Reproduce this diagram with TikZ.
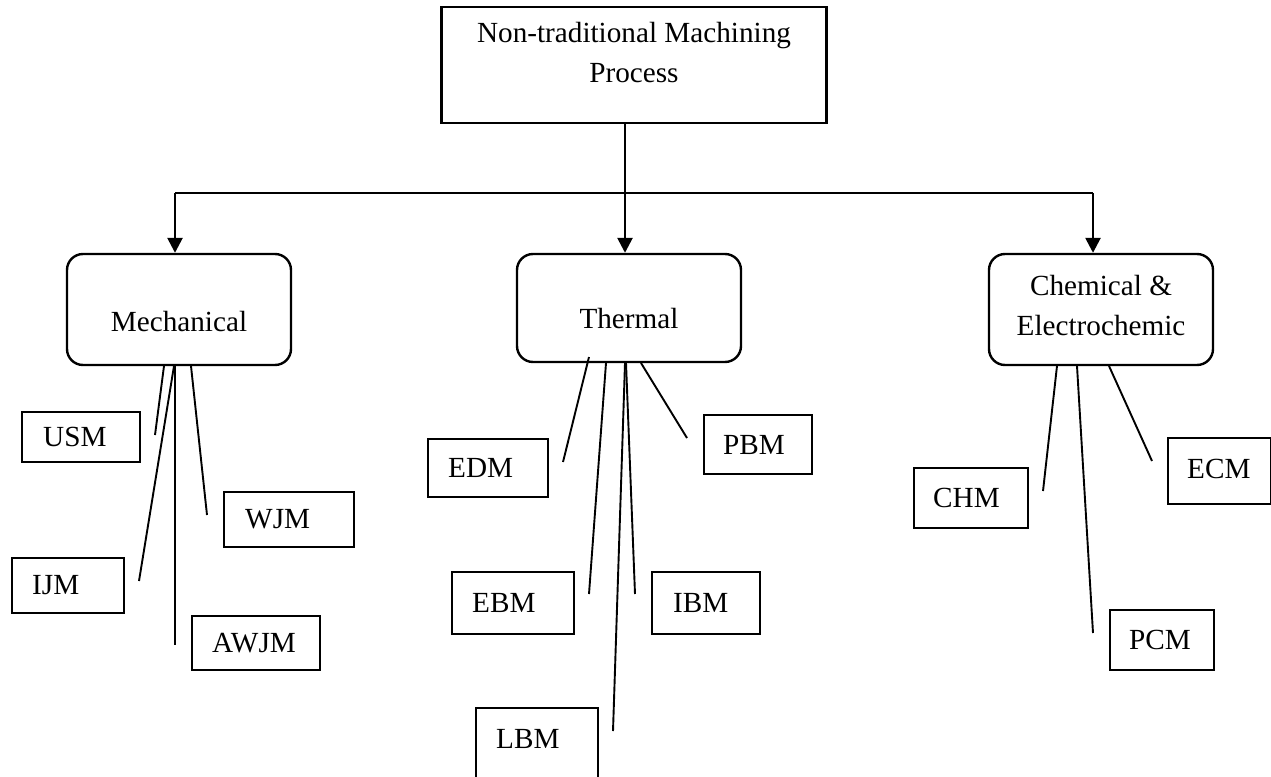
\documentclass[tikz,border=0pt]{standalone}
\usepackage{fontspec}
\setmainfont{Liberation Serif}
\usetikzlibrary{arrows.meta}
\tikzset{
  boxline/.style={draw=black, line width=2.4pt},
  catbox/.style={boxline, rounded corners=16pt, inner sep=0pt, minimum width=224pt},
  leafbox/.style={boxline, inner sep=0pt, anchor=north west},
  txt/.style={inner sep=0pt, font=\fontsize{29.2}{40}\selectfont},
  trunk/.style={line width=2.6pt},
  flow/.style={trunk, -{Triangle[length=15pt,width=15pt]}},
  twig/.style={line width=1.9pt},
}
\begin{document}
\begin{tikzpicture}[x=1pt, y=-1pt]
\useasboundingbox (0,0) rectangle (1271,776);

% root box
\node[boxline, minimum width=385pt, minimum height=116pt, inner sep=0pt] (root) at (634,65) {};
\node[txt, anchor=base] (rootA) at (634,43) {Non-traditional Machining};
\node[txt, anchor=base] (rootB) at (634,82) {Process};

% category boxes
\node[catbox, minimum height=111pt] (mech) at (179,309.5) {};
\node[txt, anchor=base] (mechT) at (179,331) {Mechanical};
\node[catbox, minimum height=108pt] (therm) at (629,308) {};
\node[txt, anchor=base] (thermT) at (629,328) {Thermal};
\node[catbox, minimum height=111pt] (chem) at (1101,309.5) {};
\node[txt, anchor=base] (chemA) at (1101,295) {Chemical \&};
\node[txt, anchor=base] (chemB) at (1101,335) {Electrochemic};

% tree from root to categories
\coordinate (split) at (625,193);
\coordinate (jm) at (175,193);
\coordinate (jc) at (1093,193);
\draw[trunk] (root.south -| split) -- (split);
\draw[trunk] (jm) -- (jc);
\draw[flow] (jm) -- (jm |- mech.north);
\draw[flow] (split) -- (split |- therm.north);
\draw[flow] (jc) -- (jc |- chem.north);

% leaf boxes: name / left / top / right / bottom / text x / label
\foreach \n/\xa/\ya/\xb/\yb/\tx/\t in {
  usm/21/411/139/461/43/USM,
  wjm/223/491/353/546/245/WJM,
  ijm/11/557/123/612/32/IJM,
  awjm/191/615/319/669/212/AWJM,
  edm/427/438/547/496/448/EDM,
  pbm/703/414/811/473/723/PBM,
  ebm/451/571/573/633/472/EBM,
  ibm/651/571/759/633/673/IBM,
  lbm/475/707/597/800/496/LBM,
  chm/913/467/1027/527/933/CHM,
  ecm/1167/437/1270/503/1187/ECM,
  pcm/1109/609/1213/669/1129/PCM} {
  \node[leafbox, minimum width={(\xb-\xa)*1pt}, minimum height={(\yb-\ya)*1pt}]
        (\n) at (\xa,\ya) {};
  \node[txt, anchor=west] (\n-t) at (\tx,{\ya+min(\yb-\ya,62)/2+1}) {\t};
}

% branch lines from the categories
\coordinate (usm-e) at (155,435);
\coordinate (ijm-e) at (139,581);
\coordinate (awjm-e) at (175,645);
\coordinate (wjm-e) at (207,515);
\draw[twig] (164,366) -- (usm-e);
\draw[twig] (174,366) -- (ijm-e);
\draw[twig] (175,366) -- (awjm-e);
\draw[twig] (191,366) -- (wjm-e);

\coordinate (edm-e) at (563,462);
\coordinate (ebm-e) at (589,594);
\coordinate (lbm-e) at (613,731);
\coordinate (ibm-e) at (635,594);
\coordinate (pbm-e) at (687,438);
\draw[twig] (589,357) -- (edm-e);
\draw[twig] (606,363) -- (ebm-e);
\draw[twig] (625,363) -- (lbm-e);
\draw[twig] (626,363) -- (ibm-e);
\draw[twig] (641,363) -- (pbm-e);

\coordinate (chm-e) at (1043,491);
\coordinate (pcm-e) at (1093,633);
\coordinate (ecm-e) at (1152,461);
\draw[twig] (1057,366) -- (chm-e);
\draw[twig] (1077,366) -- (pcm-e);
\draw[twig] (1109,366) -- (ecm-e);
\end{tikzpicture}
\end{document}
